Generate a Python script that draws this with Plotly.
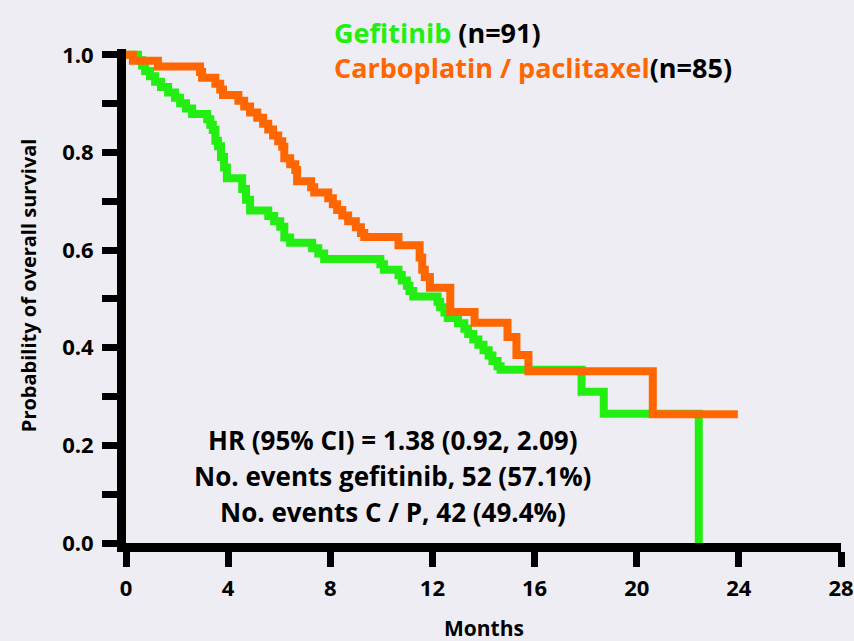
import plotly.graph_objects as go

# Kaplan-Meier overall survival, step points (months, survival probability)
gef_t = [0, 0.47, 0.63, 0.75, 0.94, 1.14, 1.37, 1.65, 1.92, 2.12, 2.35, 2.59,
         3.18, 3.3, 3.4, 3.5, 3.6, 3.72, 3.84, 3.95, 4.55, 4.7, 4.86, 5.57, 5.8,
         6.04, 6.2, 6.43, 7.29, 7.53, 7.76, 9.96, 10.1, 10.67, 10.8, 11.0, 11.1,
         11.25, 12.2, 12.3, 12.47, 12.6, 13.0, 13.25, 13.4, 13.6, 13.8, 14.0,
         14.2, 14.35, 14.55, 14.67, 17.84, 18.71, 22.43]
gef_s = [1.0, 0.989, 0.978, 0.967, 0.956, 0.945, 0.934, 0.923, 0.912, 0.901,
         0.890, 0.879, 0.868, 0.857, 0.846, 0.824, 0.813, 0.791, 0.769, 0.747,
         0.725, 0.703, 0.681, 0.670, 0.659, 0.648, 0.626, 0.615, 0.604, 0.593,
         0.582, 0.571, 0.560, 0.549, 0.538, 0.527, 0.516, 0.505, 0.494, 0.483,
         0.472, 0.461, 0.450, 0.439, 0.428, 0.417, 0.406, 0.395, 0.384, 0.373,
         0.362, 0.355, 0.310, 0.265, 0.0]

cp_t = [0, 0.27, 1.25, 2.9, 2.98, 3.5, 3.69, 3.8, 4.4, 4.63, 4.86, 5.14, 5.37,
        5.57, 5.76, 5.96, 6.12, 6.2, 6.43, 6.63, 6.7, 7.25, 7.37, 7.92, 8.1,
        8.27, 8.47, 8.7, 9.0, 9.2, 9.33, 10.67, 11.5, 11.6, 11.7, 11.9, 12.7,
        13.65, 14.94, 15.29, 15.76, 20.63, 23.96]
cp_s = [1.0, 0.988, 0.976, 0.965, 0.953, 0.941, 0.929, 0.918, 0.906, 0.894,
        0.882, 0.871, 0.859, 0.847, 0.835, 0.823, 0.812, 0.788, 0.776, 0.764,
        0.741, 0.729, 0.718, 0.706, 0.694, 0.682, 0.671, 0.659, 0.647, 0.635,
        0.627, 0.610, 0.585, 0.560, 0.545, 0.523, 0.473, 0.451, 0.422, 0.385,
        0.352, 0.264, 0.264]

x_ticks = [0, 4, 8, 12, 16, 20, 24, 28]
y_ticks = [0.0, 0.1, 0.2, 0.3, 0.4, 0.5, 0.6, 0.7, 0.8, 0.9, 1.0]
y_labels = ["0.0", "", "0.2", "", "0.4", "", "0.6", "", "0.8", "", "1.0"]

stats_lines = ["HR (95% CI) = 1.38 (0.92, 2.09)",
               "No. events gefitinib, 52 (57.1%)",
               "No. events C / P, 42 (49.4%)"]

GREEN = "#22ee11"
ORANGE = "#ff6600"
FONT = "Open Sans"

fig = go.Figure()
fig.add_trace(go.Scatter(x=gef_t, y=gef_s, mode="lines", line_shape="hv",
                         line=dict(color=GREEN, width=8), name="Gefitinib"))
fig.add_trace(go.Scatter(x=cp_t, y=cp_s, mode="lines", line_shape="hv",
                         line=dict(color=ORANGE, width=8),
                         name="Carboplatin / paclitaxel"))

axis_common = dict(showline=True, linewidth=9, linecolor="black",
                   ticks="outside", ticklen=15, tickwidth=7, tickcolor="black",
                   showgrid=False, zeroline=False, automargin=False,
                   tickfont=dict(family=FONT, size=22, color="black",
                                 weight="bold"))

fig.update_xaxes(range=[0, 28], tickvals=x_ticks, ticklabelstandoff=3,
                 **axis_common)
fig.update_yaxes(range=[0, 1.012], tickvals=y_ticks, ticktext=y_labels,
                 ticklabelstandoff=4, **axis_common)

annotations = [
    dict(x=8.07, y=1.034, xref="x", yref="paper", xanchor="left",
         yanchor="middle",
         text=f"<span style='color:{GREEN}'>Gefitinib</span> (n=91)",
         font=dict(size=27)),
    dict(x=8.07, y=0.962, xref="x", yref="paper", xanchor="left",
         yanchor="middle",
         text=f"<span style='color:{ORANGE}'>Carboplatin / paclitaxel</span>(n=85)",
         font=dict(size=27)),
    dict(x=14.0, y=-0.172, xref="x", yref="paper", xanchor="center",
         yanchor="middle", text="Months", font=dict(size=21)),
    dict(x=-0.137, y=0.522, xref="paper", yref="paper", xanchor="center",
         yanchor="middle", textangle=-90, text="Probability of overall survival",
         font=dict(size=20)),
]
for yv, line in zip([0.211, 0.137, 0.064], stats_lines):
    annotations.append(dict(x=10.45, y=yv, xref="x", yref="y",
                            xanchor="center", yanchor="middle", text=line,
                            font=dict(size=26)))
for a in annotations:
    a["showarrow"] = False
    a["font"].update(family=FONT, color="black", weight="bold")

fig.update_layout(
    width=854, height=641,
    margin=dict(l=126, r=13, t=49, b=98),
    paper_bgcolor="#efedf4", plot_bgcolor="#efedf4",
    showlegend=False,
    annotations=annotations,
)

fig.write_html("out.html")
